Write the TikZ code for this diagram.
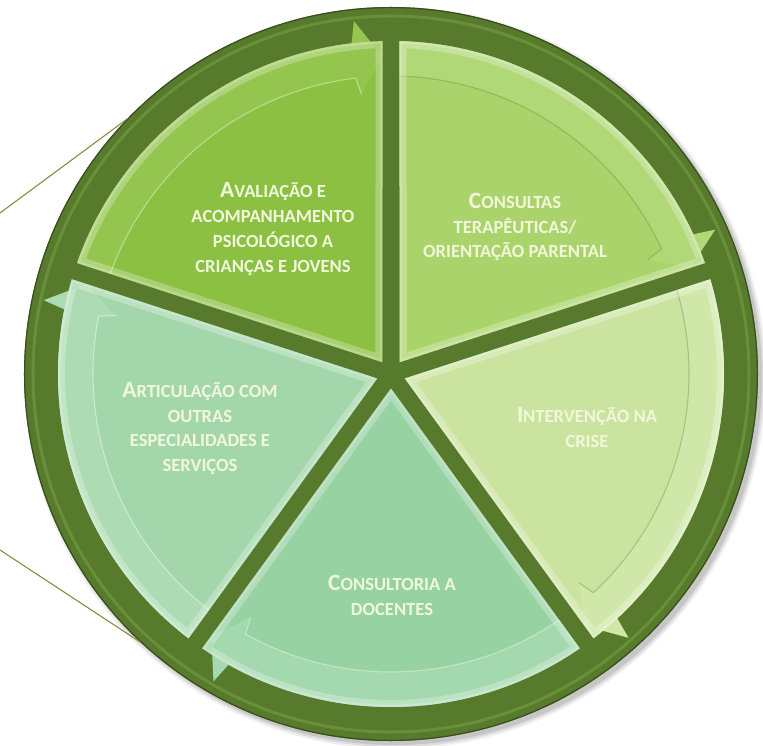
\documentclass[tikz,border=0pt]{standalone}
\usepackage{fontspec}
\setmainfont{Carlito}
\usetikzlibrary{calc}

% ring and segment colours
\definecolor{ringgreen}{HTML}{577A2D}
\definecolor{ringlight}{HTML}{6E9A3F}
\definecolor{segA}{HTML}{8BC043}
\definecolor{segAband}{HTML}{94C64F}
\definecolor{segAline}{HTML}{B9DC8C}
\definecolor{segB}{HTML}{AAD46B}
\definecolor{segBband}{HTML}{B1D877}
\definecolor{segBline}{HTML}{8FBA55}
\definecolor{segC}{HTML}{CAE4A0}
\definecolor{segCband}{HTML}{D0E7AA}
\definecolor{segCline}{HTML}{A3C47E}
\definecolor{segD}{HTML}{97D2A2}
\definecolor{segDband}{HTML}{A4D8AE}
\definecolor{segDline}{HTML}{C2E6C7}
\definecolor{segE}{HTML}{A3D7AB}
\definecolor{segEband}{HTML}{ADDCB4}
\definecolor{segEline}{HTML}{CBEBCF}
\definecolor{labeltext}{HTML}{F1F7DA}
\definecolor{callout}{HTML}{8C8A3E}

% larger initial of a small-caps label
\newcommand{\Ini}[1]{{\fontsize{23.4}{25}\selectfont #1}}

\tikzset{
  seglabel/.style={text=labeltext, align=center,
    font=\bfseries\fontsize{18.6}{25}\selectfont, inner sep=0pt},
  calloutline/.style={draw=callout, line width=1.1bp},
}

\begin{document}
\begin{tikzpicture}[x=1bp,y=1bp]
\useasboundingbox (-391,-372) rectangle (372,374);

% soft shadow towards the lower right of the ring
\foreach \o/\op in {4/0.06,2/0.08,0/0.1}{
  \fill[black, opacity=\op] (4,-4) circle[radius={(367+\o)*1bp}];
}

% callout lines
\coordinate (calloutTop) at (-391,161);
\coordinate (calloutBottom) at (-391,-176);

% dark outer ring
\node[circle, fill=ringgreen, minimum size=734bp, inner sep=0pt, outer sep=0pt] (ring) at (0,0) {};
\draw[ringlight, line width=3bp, opacity=0.7] (0,0) circle[radius=358bp];
\draw[black!35!ringgreen, line width=1.2bp] (0,0) circle[radius=366.4bp];

\draw[calloutline] (calloutTop) -- (ring.136.2);
\draw[calloutline] (calloutBottom) -- (ring.227.7);

% five wedges, each with a clockwise arrow band on its rim
\foreach \m/\body/\band/\edge in {126/segA/segAband/segAline, 54/segB/segBband/segBline,
    -18/segC/segCband/segCline, -90/segD/segDband/segDline, -162/segE/segEband/segEline}{
  \pgfmathsetmacro{\s}{\m+36}
  \pgfmathsetmacro{\e}{\m-36}
  \fill[\body] ({\m}:14.5bp) -- ({\s-1.46}:333bp)
     arc[start angle=\s-1.46, end angle=\e+1.46, radius=333bp] -- cycle;
  \fill[\band] ({\s-1.5}:333bp)
     arc[start angle=\s-1.5, end angle=\e+6.8, radius=333bp]
     -- ({\e+6}:355bp) -- ({\e+1.6}:318bp) -- ({\e+6}:281bp) -- ({\e+6.8}:298bp)
     arc[start angle=\e+6.8, end angle=\s-1.65, radius=298bp] -- cycle;
  \draw[\edge, line width=1.1bp, line join=round] ({\s-1.65}:298bp)
     arc[start angle=\s-1.65, end angle=\e+6.8, radius=298bp] -- ({\e+6}:281bp);
  \begin{scope}
    \clip ({\m}:14.5bp) -- ({\s-1.46}:333bp)
       arc[start angle=\s-1.46, end angle=\e+1.46, radius=333bp] -- cycle;
    \draw[white, opacity=0.26, line width=14bp, line join=round] ({\m}:14.5bp) -- ({\s-1.46}:333bp)
       arc[start angle=\s-1.46, end angle=\e+1.46, radius=333bp] -- cycle;
    \draw[white, opacity=0.2, line width=5bp, line join=round] ({\m}:14.5bp) -- ({\s-1.46}:333bp)
       arc[start angle=\s-1.46, end angle=\e+1.46, radius=333bp] -- cycle;
  \end{scope}
}

% labels
\node[seglabel] (tA) at (-118,145) {\Ini{A}VALIAÇÃO E\\ACOMPANHAMENTO\\PSICOLÓGICO A\\CRIANÇAS E JOVENS};
\node[seglabel] (tB) at (124,147) {\Ini{C}ONSULTAS\\TERAPÊUTICAS/\\ORIENTAÇÃO PARENTAL};
\node[seglabel] (tC) at (196,-53.5) {\Ini{I}NTERVENÇÃO NA\\CRISE};
\node[seglabel] (tD) at (1,-221.5) {\Ini{C}ONSULTORIA A\\DOCENTES};
\node[seglabel] (tE) at (-191,-54.5) {\Ini{A}RTICULAÇÃO COM\\OUTRAS\\ESPECIALIDADES E\\SERVIÇOS};
\end{tikzpicture}
\end{document}
